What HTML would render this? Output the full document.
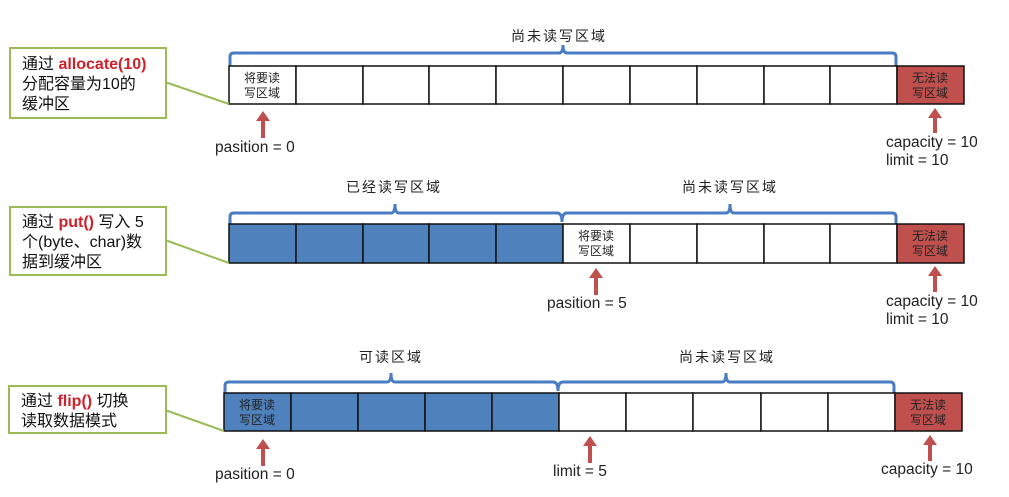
<!DOCTYPE html>
<html><head><meta charset="utf-8"><style>
html,body{margin:0;padding:0;background:#fff;}
svg{display:block;}
text{font-family:"Liberation Sans","Noto Sans CJK SC",sans-serif;}
.c{font-size:12px;fill:#222;text-anchor:middle;}
.l{font-size:14px;fill:#222;text-anchor:middle;letter-spacing:2px;}
.v{font-size:15.5px;fill:#222;}
.b{font-size:16px;fill:#111;}
.r{fill:#d0202a;font-weight:bold;}
.cell{stroke:#111;stroke-width:1.5;}
.br{fill:none;stroke:#4a7cc4;stroke-width:3;}
.ar{fill:#c0504d;}
.call{fill:#fff;stroke:#9bbb59;stroke-width:2;}
.gl{stroke:#9bbb59;stroke-width:2;}
</style></head><body>
<svg width="1009" height="497" viewBox="0 0 1009 497" xmlns="http://www.w3.org/2000/svg">
<!-- Row 1 -->
<text class="l" x="559" y="41">尚未读写区域</text>
<path class="br" d="M230 66 V57 Q230 53 234 53 H559 Q563 53 563 45 Q563 53 567 53 H892 Q896 53 896 57 V66"/>
<g class="cell" fill="#fff">
<rect x="229" y="66" width="67" height="38"/><rect x="296" y="66" width="67" height="38"/><rect x="363" y="66" width="66" height="38"/><rect x="429" y="66" width="67" height="38"/><rect x="496" y="66" width="67" height="38"/><rect x="563" y="66" width="67" height="38"/><rect x="630" y="66" width="67" height="38"/><rect x="697" y="66" width="67" height="38"/><rect x="764" y="66" width="66" height="38"/><rect x="830" y="66" width="67" height="38"/>
<rect x="897" y="66" width="67" height="38" fill="#c0504d"/>
</g>
<text class="c" x="262" y="82">将要读</text><text class="c" x="262" y="97">写区域</text>
<text class="c" x="930" y="82">无法读</text><text class="c" x="930" y="97">写区域</text>
<polygon class="ar" points="263,111 256,121 261,121 261,138 265,138 265,121 270,121"/>
<text class="v" x="215" y="152">pasition = 0</text>
<polygon class="ar" points="935,108 928,118 933,118 933,133 937,133 937,118 942,118"/>
<text class="v" x="886" y="147">capacity = 10</text>
<text class="v" x="886" y="165">limit = 10</text>
<line class="gl" x1="165" y1="82" x2="229" y2="104"/>
<rect class="call" x="10" y="48" width="156" height="70"/>
<text class="b" x="22" y="69">通过 <tspan class="r">allocate(10)</tspan></text>
<text class="b" x="22" y="89">分配容量为10的</text>
<text class="b" x="22" y="109">缓冲区</text>

<!-- Row 2 -->
<text class="l" x="394" y="192">已经读写区域</text>
<text class="l" x="730" y="192">尚未读写区域</text>
<path class="br" d="M230 224 V217 Q230 213 234 213 H391 Q395 213 395 204 Q395 213 399 213 H557 Q562 213 562 222 Q562 213 567 213 H726 Q730 213 730 204 Q730 213 734 213 H892 Q896 213 896 217 V224"/>
<g class="cell">
<rect x="229" y="224" width="67" height="39" fill="#4f81bd"/><rect x="296" y="224" width="67" height="39" fill="#4f81bd"/><rect x="363" y="224" width="66" height="39" fill="#4f81bd"/><rect x="429" y="224" width="67" height="39" fill="#4f81bd"/><rect x="496" y="224" width="67" height="39" fill="#4f81bd"/>
<rect x="563" y="224" width="67" height="39" fill="#fff"/><rect x="630" y="224" width="67" height="39" fill="#fff"/><rect x="697" y="224" width="67" height="39" fill="#fff"/><rect x="764" y="224" width="66" height="39" fill="#fff"/><rect x="830" y="224" width="67" height="39" fill="#fff"/>
<rect x="897" y="224" width="67" height="39" fill="#c0504d"/>
</g>
<text class="c" x="596" y="240">将要读</text><text class="c" x="596" y="255">写区域</text>
<text class="c" x="930" y="240">无法读</text><text class="c" x="930" y="255">写区域</text>
<polygon class="ar" points="596,268 589,278 594,278 594,295 598,295 598,278 603,278"/>
<text class="v" x="547" y="308">pasition = 5</text>
<polygon class="ar" points="935,266 928,276 933,276 933,292 937,292 937,276 942,276"/>
<text class="v" x="886" y="306">capacity = 10</text>
<text class="v" x="886" y="324">limit = 10</text>
<line class="gl" x1="165" y1="240" x2="229" y2="263"/>
<rect class="call" x="10" y="207" width="156" height="68"/>
<text class="b" x="22" y="227">通过 <tspan class="r">put()</tspan> 写入 5</text>
<text class="b" x="22" y="247">个(byte、char)数</text>
<text class="b" x="22" y="267">据到缓冲区</text>

<!-- Row 3 -->
<text class="l" x="391" y="362">可读区域</text>
<text class="l" x="727" y="362">尚未读写区域</text>
<path class="br" d="M225 393 V386 Q225 382 229 382 H387 Q391 382 391 373 Q391 382 395 382 H553 Q558 382 558 391 Q558 382 563 382 H722 Q726 382 726 373 Q726 382 730 382 H890 Q894 382 894 386 V393"/>
<g class="cell">
<rect x="224" y="393" width="67" height="38" fill="#4f81bd"/><rect x="291" y="393" width="67" height="38" fill="#4f81bd"/><rect x="358" y="393" width="67" height="38" fill="#4f81bd"/><rect x="425" y="393" width="67" height="38" fill="#4f81bd"/><rect x="492" y="393" width="67" height="38" fill="#4f81bd"/>
<rect x="559" y="393" width="67" height="38" fill="#fff"/><rect x="626" y="393" width="67" height="38" fill="#fff"/><rect x="693" y="393" width="68" height="38" fill="#fff"/><rect x="761" y="393" width="67" height="38" fill="#fff"/><rect x="828" y="393" width="67" height="38" fill="#fff"/>
<rect x="895" y="393" width="67" height="38" fill="#c0504d"/>
</g>
<text class="c" x="257" y="409">将要读</text><text class="c" x="257" y="424">写区域</text>
<text class="c" x="928" y="409">无法读</text><text class="c" x="928" y="424">写区域</text>
<polygon class="ar" points="263,439 256,449 261,449 261,466 265,466 265,449 270,449"/>
<text class="v" x="215" y="479">pasition = 0</text>
<polygon class="ar" points="590,436 583,446 588,446 588,463 592,463 592,446 597,446"/>
<text class="v" x="553" y="476">limit = 5</text>
<polygon class="ar" points="930,435 923,445 928,445 928,461 932,461 932,445 937,445"/>
<text class="v" x="881" y="474">capacity = 10</text>
<line class="gl" x1="165" y1="410" x2="224" y2="431"/>
<rect class="call" x="9" y="386" width="157" height="47"/>
<text class="b" x="21" y="406">通过 <tspan class="r">flip()</tspan> 切换</text>
<text class="b" x="21" y="426">读取数据模式</text>
</svg>
</body></html>
